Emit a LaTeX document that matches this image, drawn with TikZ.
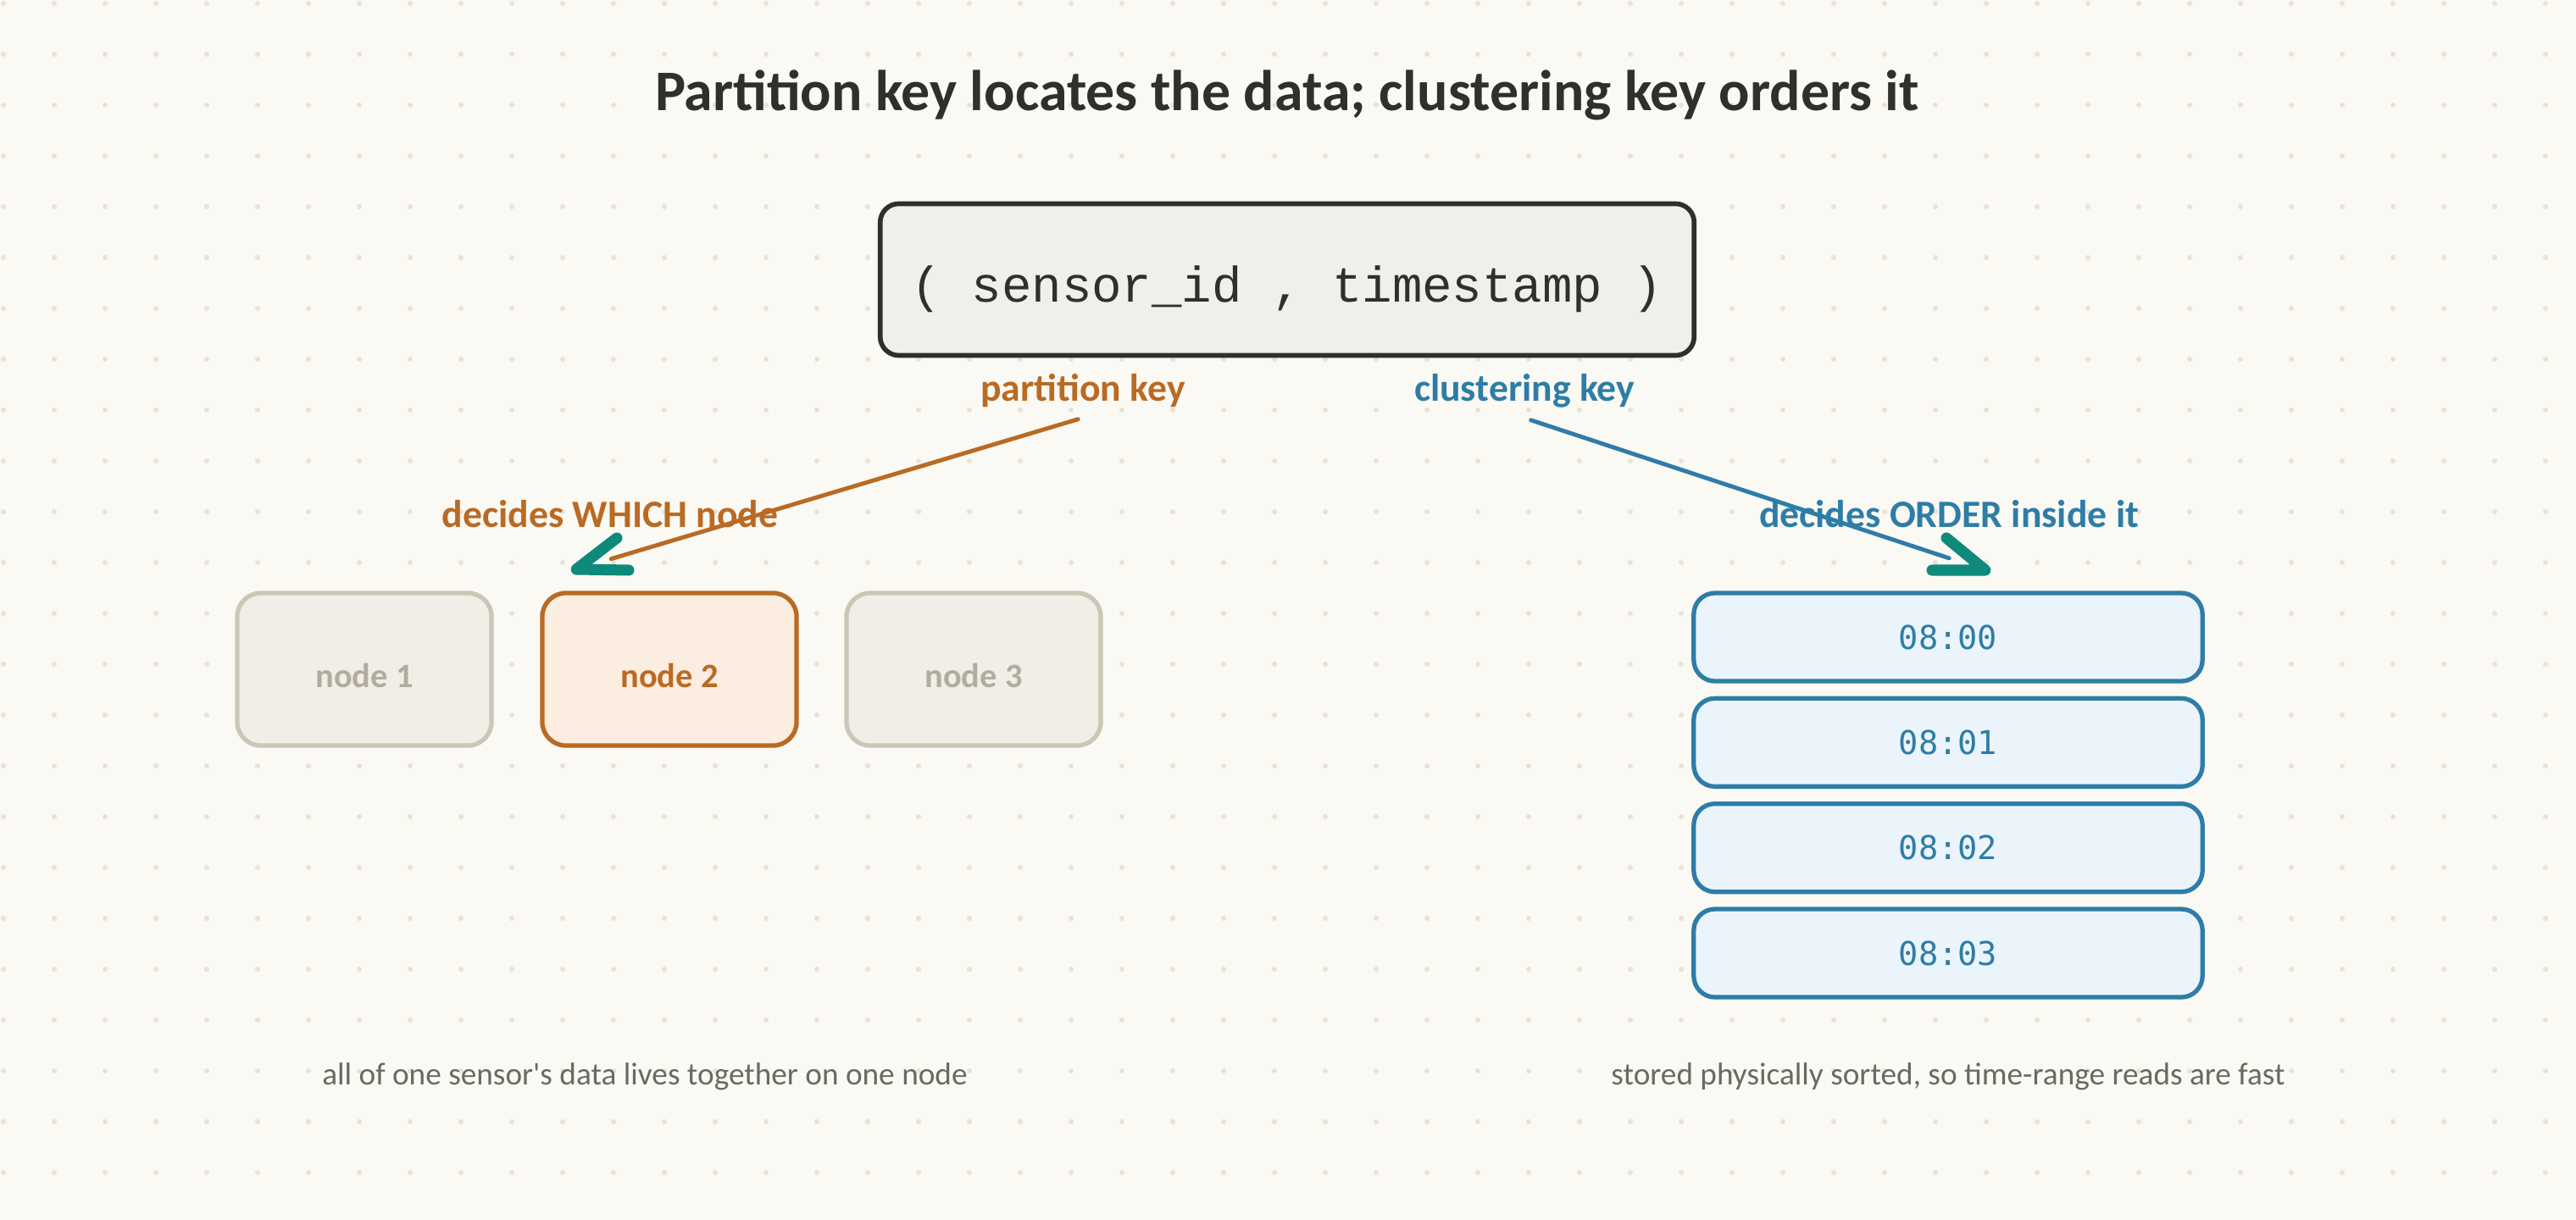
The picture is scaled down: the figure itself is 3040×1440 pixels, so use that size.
\documentclass[tikz,border=0pt]{standalone}
\usepackage{fontspec}
\setmainfont{Carlito}
\newfontfamily\keyfont{Liberation Mono}
\newfontfamily\timefont{DejaVu Sans Mono}
\usetikzlibrary{positioning}

\definecolor{paper}{HTML}{FAF9F4}
\definecolor{dotc}{HTML}{E6E3D8}
\definecolor{ink}{HTML}{2F2F2C}
\definecolor{keyfill}{HTML}{F0EFEA}
\definecolor{rust}{HTML}{BA6A23}
\definecolor{rustfill}{HTML}{FBEDDF}
\definecolor{steel}{HTML}{2E7DA6}
\definecolor{steelfill}{HTML}{EBF4FB}
\definecolor{tealink}{HTML}{0E8A7A}
\definecolor{idleline}{HTML}{CCC6B6}
\definecolor{idlefill}{HTML}{F0EEE6}
\definecolor{idletext}{HTML}{B2AC9E}
\definecolor{notegray}{HTML}{6A6962}

\begin{document}
\begin{tikzpicture}
    [
      x=0.01cm, y=-0.01cm,
      heading/.style={font=\bfseries\fontsize{19.3}{23}\selectfont, text=ink},
      keybox/.style={draw=ink, fill=keyfill, line width=1.6pt, rounded corners=0.22cm,
        minimum width=9.6cm, minimum height=1.79cm, text=ink,
        font=\keyfont\fontsize{16.8}{20}\selectfont},
      partlab/.style={font=\bfseries\fontsize{13}{16}\selectfont, text=rust},
      clustlab/.style={font=\bfseries\fontsize{13}{16}\selectfont, text=steel},
      idle/.style={draw=idleline, fill=idlefill, text=idletext, line width=1.5pt,
        rounded corners=0.28cm, minimum width=3cm, minimum height=1.8cm,
        font=\bfseries\fontsize{11.5}{14}\selectfont},
      chosen/.style={idle, draw=rust, fill=rustfill, text=rust},
      slot/.style={draw=steel, fill=steelfill, text=steel, line width=1.5pt,
        rounded corners=0.25cm, minimum width=6cm, minimum height=1.04cm,
        font=\timefont\fontsize{11}{14}\selectfont},
      note/.style={font=\fontsize{10.6}{13}\selectfont, text=notegray},
      partline/.style={draw=rust, line width=1.4pt, line cap=round},
      clustline/.style={draw=steel, line width=1.4pt, line cap=round},
      tiphead/.style={draw=tealink, line width=3.7pt, line cap=round, line join=round},
    ]

    \fill [paper] (0,0) rectangle (3040,1440);
    \useasboundingbox (0,0) rectangle (3040,1440);
    \foreach \i in {0,...,50}
      \foreach \j in {0,...,23}
        \fill [dotc] (4+60*\i,4+60*\j) circle (0.03cm);

    \node (title) [heading] at (1519,112) {Partition key locates the data; clustering key orders it};

    \node (pk) [keybox] at (1519,330) {\raisebox{-0.11cm}[\height][\depth]{( sensor\_id , timestamp )}};
    \node (part-label) [partlab] at (1278,461) {partition key};
    \node (clust-label) [clustlab] at (1799,461) {clustering key};

    \node (which-label) [partlab] at (720,607) {decides WHICH node};
    \node (order-label) [clustlab] at (2300,607) {decides ORDER inside it};

    \node (node1) [idle] at (430,790) {\raisebox{-0.07cm}[\height][\depth]{node 1}};
    \node (node2) [chosen] at (790,790) {\raisebox{-0.07cm}[\height][\depth]{node 2}};
    \node (node3) [idle] at (1149,790) {\raisebox{-0.07cm}[\height][\depth]{node 3}};

    \node (t0) [slot] at (2299,752) {08:00};
    \node (t1) [slot, below=0.15cm of t0] {08:01};
    \node (t2) [slot, below=0.15cm of t1] {08:02};
    \node (t3) [slot, below=0.15cm of t2] {08:03};

    \coordinate (which-tip) at (680,672);
    \coordinate (order-tip) at (2343,673);

    \path
    (part-label.south) edge [partline, shorten <=0.06cm, shorten >=0.43cm] (which-tip)
    (clust-label.south) edge [clustline, shorten <=0.08cm, shorten >=0.45cm] (order-tip)
    ;

    % open heads, drawn apart from the lines
    \draw [tiphead] ([shift={(48,-37)}]which-tip) -- (which-tip) -- ([shift={(62,1)}]which-tip);
    \draw [tiphead] ([shift={(-46,-38)}]order-tip) -- (order-tip) -- ([shift={(-63,0)}]order-tip);

    \node (note-left) [note] at (761,1271) {all of one sensor\textquotesingle s data lives together on one node};
    \node (note-right) [note] at (2299,1271) {stored physically sorted, so time-range reads are fast};

  \end{tikzpicture}
\end{document}
